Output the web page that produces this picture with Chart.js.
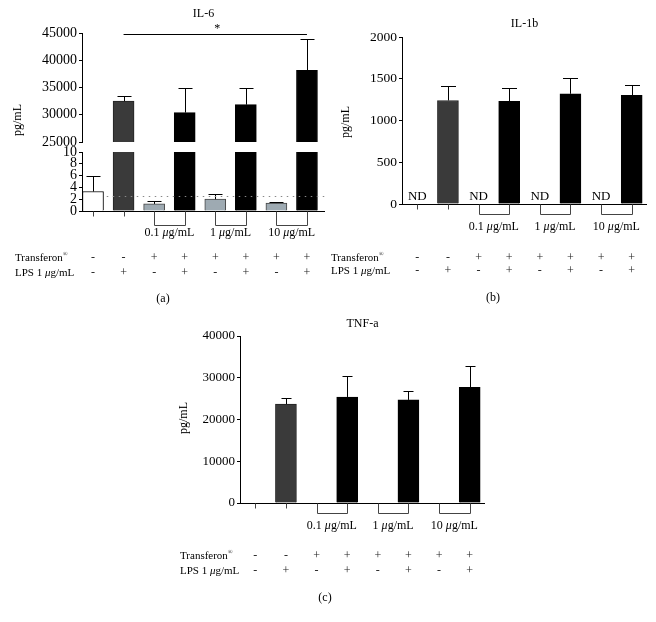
<!DOCTYPE html>
<html>
<head>
<meta charset="utf-8">
<script src="https://cdn.jsdelivr.net/npm/chart.js@4.4.1/dist/chart.umd.min.js"></script>
<style>
body { margin: 0; background: #fff; }
#wrap { position: relative; width: 656px; height: 622px; overflow: hidden; font-family: 'Liberation Serif', 'Times New Roman', serif; color: #000; }
canvas { position: absolute; }
.c, .l, .r { position: absolute; white-space: nowrap; line-height: 1; }
.c { transform: translate(-50%, -50%); }
.l { transform: translateY(-50%); }
.r { transform: translate(-50%, -50%) rotate(-90deg); }
sup { font-size: 6px; vertical-align: 5px; }
.s { color: #222; }
</style>
</head>
<body>
<div id="wrap">
  <canvas id="il6Top" width="330" height="156" style="left:0;top:0"></canvas>
  <canvas id="il6Low" width="330" height="90" style="left:0;top:140px"></canvas>
  <canvas id="il1b" width="326" height="230" style="left:330px;top:0"></canvas>
  <canvas id="tnf" width="340" height="220" style="left:160px;top:310px"></canvas>
</div>
<script>
// groups: 8 conditions, same for all three panels
const transferonRow = ["-", "-", "+", "+", "+", "+", "+", "+"];
const lpsRow = ["-", "+", "-", "+", "-", "+", "-", "+"];
const doseLabels = ["0.1", "1", "10"];
const dosePairs = [[2, 3], [4, 5], [6, 7]];
const barColors = ["#ffffff", "#3a3a3a", "#9eaab2", "#000000", "#9eaab2", "#000000", "#9eaab2", "#000000"];
const barBorders = ["#000000", "#222222", "#444444", "#000000", "#444444", "#000000", "#444444", "#000000"];

// IL-6 (pg/mL), broken axis
const il6Mean = [3.3, 32500, 1.2, 30400, 2.0, 31850, 1.35, 38150];
const il6Sd = [2.7, 1000, 0.55, 4600, 0.9, 3150, 0.15, 5750];
const il6TopTicks = [25000, 30000, 35000, 40000, 45000];
const il6LowTicks = [0, 2, 4, 6, 8, 10];
const il6Limit = 2.5;
const il6SigLevel = 44800;

// IL-1b (pg/mL), null = not detected
const il1bMean = [null, 1240, null, 1230, null, 1320, null, 1300];
const il1bSd = [null, 170, null, 160, null, 190, null, 120];
const il1bTicks = [0, 500, 1000, 1500, 2000];

// TNF-a (pg/mL)
const tnfMean = [null, 23700, null, 25400, null, 24700, null, 27700];
const tnfSd = [null, 1500, null, 4900, null, 2200, null, 5000];
const tnfTicks = [0, 10000, 20000, 30000, 40000];

const FONT = "'Liberation Serif', 'Times New Roman', serif";
const wrap = document.getElementById("wrap");

function put(html, x, y, cls, size) {
    const d = document.createElement("div");
    d.className = cls;
    d.innerHTML = html;
    d.style.left = x + "px";
    d.style.top = y + "px";
    d.style.fontSize = size + "px";
    wrap.appendChild(d);
}

// error bars, x axis line with brackets, ND labels, etc.
function makeDecor(o) {
    return {
        id: "decor",
        afterDatasetsDraw(chart) {
            const ctx = chart.ctx, a = chart.chartArea;
            const xs = chart.scales.x, ys = chart.scales.y;
            ctx.save();
            ctx.beginPath();
            ctx.rect(a.left, a.top - 1, a.right - a.left, a.bottom - a.top + 1);
            ctx.clip();
            ctx.strokeStyle = "#000";
            ctx.lineWidth = 1;
            o.mean.forEach((m, i) => {
                if (m == null) return;
                const x = Math.round(xs.getPixelForValue(i)) + 0.5;
                const y0 = ys.getPixelForValue(m);
                const y1 = Math.round(ys.getPixelForValue(m + o.sd[i])) + 0.5;
                ctx.beginPath();
                ctx.moveTo(x, y0);
                ctx.lineTo(x, y1);
                ctx.moveTo(x - o.cap / 2, y1);
                ctx.lineTo(x + o.cap / 2, y1);
                ctx.stroke();
            });
            if (o.limit != null) {
                const y = Math.round(ys.getPixelForValue(o.limit)) + 0.5;
                ctx.strokeStyle = "#888";
                ctx.setLineDash([1.5, 4.5]);
                ctx.beginPath();
                ctx.moveTo(xs.getPixelForValue(0.45), y);
                ctx.lineTo(a.right, y);
                ctx.stroke();
                ctx.setLineDash([]);
            }
            ctx.restore();

            ctx.save();
            ctx.strokeStyle = "#000";
            ctx.fillStyle = "#000";
            ctx.lineWidth = 1;
            if (o.axis) {
                const yb = Math.round(a.bottom) + 0.5;
                ctx.beginPath();
                ctx.moveTo(a.left, yb);
                ctx.lineTo(a.right, yb);
                ctx.stroke();
                ctx.strokeStyle = "#444";
                ctx.beginPath();
                for (let i = 0; i < o.mean.length; i++) {
                    const x = Math.round(xs.getPixelForValue(i)) + 0.5;
                    ctx.moveTo(x, yb);
                    ctx.lineTo(x, yb + 5);
                }
                dosePairs.forEach(p => {
                    const x0 = Math.round(xs.getPixelForValue(p[0])) + 0.5;
                    const x1 = Math.round(xs.getPixelForValue(p[1])) + 0.5;
                    ctx.moveTo(x0, yb + 2);
                    ctx.lineTo(x0, yb + o.bracket);
                    ctx.lineTo(x1, yb + o.bracket);
                    ctx.lineTo(x1, yb + 2);
                });
                ctx.stroke();
            }
            if (o.nd) {
                ctx.font = "13px " + FONT;
                ctx.textAlign = "center";
                ctx.textBaseline = "alphabetic";
                o.mean.forEach((m, i) => {
                    if (m != null) return;
                    ctx.fillText("ND", xs.getPixelForValue(i), a.bottom - 4);
                });
            }
            if (o.sig != null) {
                const y = Math.round(ys.getPixelForValue(o.sig)) + 0.5;
                const x0 = xs.getPixelForValue(1), x1 = xs.getPixelForValue(7);
                ctx.beginPath();
                ctx.moveTo(x0, y);
                ctx.lineTo(x1, y);
                ctx.stroke();
                ctx.font = "12px " + FONT;
                ctx.textAlign = "center";
                ctx.textBaseline = "middle";
                ctx.fillText("*", (x0 + x1) / 2 + 2, y - 6);
            }
            ctx.restore();
        }
    };
}

function makeChart(id, mean, sd, ticks, o) {
    const data = mean.map((v, i) => ({ x: i, y: v }));
    return new Chart(document.getElementById(id), {
        type: "bar",
        data: {
            datasets: [{
                data: data,
                backgroundColor: o.dark ? barColors.map((c, i) => i === 1 ? c : "#000000") : barColors,
                borderColor: barBorders,
                borderWidth: 1,
                borderSkipped: "start",
                barThickness: 21,
                clip: 0
            }]
        },
        options: {
            responsive: false,
            animation: false,
            events: [],
            layout: { padding: o.pad },
            plugins: { legend: { display: false }, tooltip: { enabled: false } },
            scales: {
                x: { type: "linear", display: false, offset: false, min: o.xMin, max: o.xMax },
                y: {
                    min: ticks[0],
                    max: ticks[ticks.length - 1],
                    afterBuildTicks: s => { s.ticks = ticks.map(v => ({ value: v })); },
                    afterFit: s => { s.width = o.yWidth; },
                    border: { display: true, color: "#000", width: 1 },
                    grid: { drawOnChartArea: false, drawTicks: true, tickLength: 3, color: "#000" },
                    ticks: {
                        color: "#000", padding: 2, autoSkip: false,
                        font: { family: FONT, size: o.tickSize },
                        callback: v => String(v)
                    }
                }
            }
        },
        plugins: [makeDecor({ mean: mean, sd: sd, cap: o.cap, axis: o.axis, bracket: o.bracket, nd: o.nd, limit: o.limit, sig: o.sig })]
    });
}

const il6TopChart = makeChart("il6Top", il6Mean, il6Sd, il6TopTicks, {
    pad: { left: 0, top: 33, right: 5, bottom: 14 }, yWidth: 82, tickSize: 14,
    xMin: -0.36, xMax: 7.59, cap: 14, axis: false, sig: il6SigLevel
});
const il6LowChart = makeChart("il6Low", il6Mean, il6Sd, il6LowTicks, {
    pad: { left: 0, top: 12, right: 5, bottom: 19 }, yWidth: 82, tickSize: 14,
    xMin: -0.36, xMax: 7.59, cap: 14, axis: true, bracket: 14, limit: il6Limit
});
const il1bChart = makeChart("il1b", il1bMean, il1bSd, il1bTicks, {
    pad: { left: 0, top: 37, right: 9, bottom: 26 }, yWidth: 72, tickSize: 13.5,
    xMin: -0.5, xMax: 7.5, cap: 15, axis: true, bracket: 10, nd: true, dark: true
});
const tnfChart = makeChart("tnf", tnfMean, tnfSd, tnfTicks, {
    pad: { left: 0, top: 26, right: 15, bottom: 27 }, yWidth: 80, tickSize: 13,
    xMin: -0.5, xMax: 7.5, cap: 10, axis: true, bracket: 10, dark: true
});

// text below each panel, placed from the chart's own x scale
function addRows(chart, r) {
    const xs = chart.scales.x;
    const left = chart.canvas.offsetLeft;
    const px = i => xs.getPixelForValue(i) + left;
    dosePairs.forEach((p, k) => {
        put(doseLabels[k] + " <i>μ</i>g/mL", (px(p[0]) + px(p[1])) / 2, r.doseY, "c", 12);
    });
    put("Transferon<sup>®</sup>", r.labelX, r.tY, "l", 11);
    put("LPS 1 <i>μ</i>g/mL", r.labelX, r.lY, "l", 11);
    transferonRow.forEach((s, i) => put(s, px(i), r.tY, "c s", 12));
    lpsRow.forEach((s, i) => put(s, px(i), r.lY, "c s", 12));
    put(r.tag, r.tagX, r.tagY, "c", 12);
    const mid = (chart.chartArea.left + chart.chartArea.right) / 2 + left;
    put(r.title, mid, r.titleY, "c", 12);
    put("pg/mL", r.yLabX, r.yLabY, "r", 12);
}

addRows(il6LowChart, { doseY: 232, tY: 257, lY: 272, labelX: 15, tag: "(a)", tagX: 163, tagY: 298, title: "IL-6", titleY: 13, yLabX: 17, yLabY: 120 });
addRows(il1bChart, { doseY: 226, tY: 257, lY: 270, labelX: 331, tag: "(b)", tagX: 493, tagY: 297, title: "IL-1b", titleY: 23, yLabX: 345, yLabY: 122 });
addRows(tnfChart, { doseY: 525, tY: 555, lY: 570, labelX: 180, tag: "(c)", tagX: 325, tagY: 597, title: "TNF-a", titleY: 323, yLabX: 183, yLabY: 418 });
</script>
</body>
</html>
